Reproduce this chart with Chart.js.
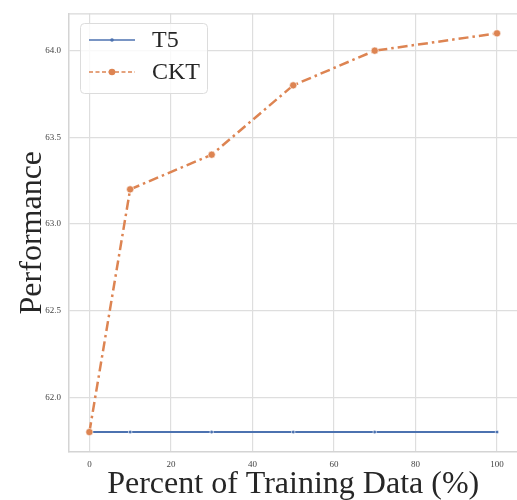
<!DOCTYPE html>
<html>
<head>
<meta charset="utf-8">
<script src="https://cdn.jsdelivr.net/npm/chart.js@4.4.1/dist/chart.umd.min.js"></script>
<style>
html,body{margin:0;padding:0;background:#fff;overflow:hidden;width:517px;height:500px;}
#wrap{position:absolute;left:0;top:0;width:522px;height:500px;}
</style>
</head>
<body>
<div id="wrap"><canvas id="c" width="522" height="500"></canvas></div>
<script>
const percentData = [0, 10, 30, 50, 70, 100];
const t5Values = [61.8, 61.8, 61.8, 61.8, 61.8, 61.8];
const cktValues = [61.8, 63.2, 63.4, 63.8, 64.0, 64.1];
const xTicks = [0, 20, 40, 60, 80, 100];
const yTicks = [62.0, 62.5, 63.0, 63.5, 64.0];
const seriesNames = ['T5', 'CKT'];

const BLUE = '#4c72b0', ORANGE = '#dd8452';
const SERIF = '"Liberation Serif","Times New Roman",serif';

const framePlugin = {
  id: 'frame',
  beforeDatasetsDraw(chart) {
    const {ctx, chartArea: a} = chart;
    ctx.save();
    ctx.strokeStyle = '#d9d9d9';
    ctx.lineWidth = 1.2;
    ctx.beginPath();
    ctx.moveTo(a.left, a.top + 0.5);
    ctx.lineTo(a.right, a.top + 0.5);
    ctx.stroke();
    ctx.restore();
  }
};

const legendPlugin = {
  id: 'boxLegend',
  afterDraw(chart) {
    const ctx = chart.ctx;
    ctx.save();
    const x = 80, y = 23, w = 127, h = 70, r = 4;
    ctx.beginPath();
    ctx.roundRect(x + 0.5, y + 0.5, w, h, r);
    ctx.fillStyle = 'rgba(255,255,255,0.8)';
    ctx.fill();
    ctx.strokeStyle = '#dcdcdc';
    ctx.lineWidth = 1;
    ctx.stroke();
    const ds = chart.data.datasets;
    const rows = [40, 72];
    ds.forEach((d, i) => {
      const yy = rows[i];
      ctx.strokeStyle = d.borderColor;
      ctx.lineWidth = 1.6;
      ctx.setLineDash(i === 0 ? [] : [4, 2.5]);
      ctx.beginPath();
      ctx.moveTo(89, yy);
      ctx.lineTo(135, yy);
      ctx.stroke();
      ctx.setLineDash([]);
      ctx.beginPath();
      ctx.arc(112, yy, i === 0 ? 1.8 : 3.3, 0, Math.PI * 2);
      ctx.fillStyle = d.borderColor;
      ctx.fill();
      ctx.fillStyle = '#262626';
      ctx.font = '24px ' + SERIF;
      ctx.textBaseline = 'middle';
      ctx.textAlign = 'left';
      ctx.fillText(d.label, 152, yy + 1);
    });
    ctx.restore();
  }
};

const toPts = (xs, ys) => xs.map((x, i) => ({x: x, y: ys[i]}));

new Chart(document.getElementById('c'), {
  type: 'line',
  data: {
    datasets: [
      {
        label: seriesNames[0],
        data: toPts(percentData, t5Values),
        borderColor: BLUE,
        backgroundColor: BLUE,
        borderWidth: 2,
        pointRadius: 1.8,
        pointBorderColor: '#ffffff',
        pointBorderWidth: 0.6,
        pointBackgroundColor: BLUE,
        tension: 0,
        order: 1
      },
      {
        label: seriesNames[1],
        data: toPts(percentData, cktValues),
        borderColor: ORANGE,
        backgroundColor: ORANGE,
        borderWidth: 2.5,
        borderDash: [10, 4, 2.5, 4],
        pointRadius: 3.6,
        pointBorderColor: '#ffffff',
        pointBorderWidth: 0.6,
        pointBackgroundColor: ORANGE,
        tension: 0,
        order: 0
      }
    ]
  },
  options: {
    responsive: false,
    animation: false,
    devicePixelRatio: 1,
    layout: {padding: {left: 0, right: 0, top: 11, bottom: 0}},
    plugins: {legend: {display: false}, tooltip: {enabled: false}},
    scales: {
      x: {
        type: 'linear',
        min: -5,
        max: 105,
        afterBuildTicks(scale) { scale.ticks = xTicks.map(v => ({value: v})); },
        afterFit(scale) { scale.height = 48; },
        grid: {color: '#dedede', lineWidth: 1.2, drawTicks: false},
        border: {color: '#d4d4d4', width: 1.5},
        ticks: {
          color: '#444', padding: 7,
          font: {family: SERIF, size: 9},
          maxRotation: 0,
          callback: v => String(v)
        },
        title: {
          display: true,
          text: 'Percent of Training Data (%)',
          color: '#262626',
          font: {family: SERIF, size: 32},
          padding: {top: 0, bottom: -4}
        }
      },
      y: {
        type: 'linear',
        min: 61.685,
        max: 64.215,
        afterBuildTicks(scale) { scale.ticks = yTicks.map(v => ({value: v})); },
        afterFit(scale) { scale.width = 69; },
        grid: {color: '#dedede', lineWidth: 1.2, drawTicks: false},
        border: {color: '#d4d4d4', width: 1.5},
        ticks: {
          color: '#444', padding: 8,
          font: {family: SERIF, size: 9},
          callback: v => Number(v).toFixed(1)
        },
        title: {
          display: true,
          text: 'Performance',
          color: '#262626',
          font: {family: SERIF, size: 32},
          padding: {top: 13, bottom: 0}
        }
      }
    }
  },
  plugins: [framePlugin, legendPlugin]
});
</script>
</body>
</html>
